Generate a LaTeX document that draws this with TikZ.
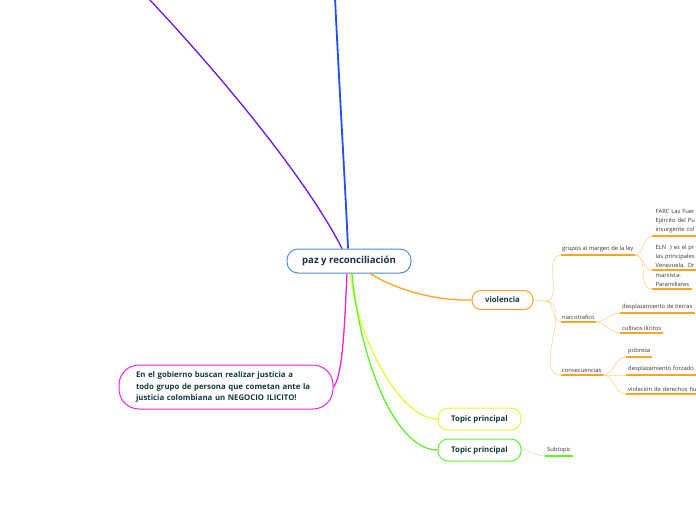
\documentclass[tikz,border=0pt]{standalone}
\usepackage{fontspec}
\setmainfont{Open Sans}
\usetikzlibrary{positioning}
\definecolor{centreblue}{HTML}{4A8FD4}
\definecolor{navytext}{HTML}{1C2D50}
\definecolor{tealtext}{HTML}{17393A}
\definecolor{leafgray}{HTML}{333333}
\definecolor{linkblue}{HTML}{1F4FFF}
\definecolor{linkpurple}{HTML}{6A14F0}
\definecolor{violorange}{HTML}{FFA322}
\definecolor{paleorange}{HTML}{FFD28C}
\definecolor{linkpink}{HTML}{EE22E0}
\definecolor{linkyellow}{HTML}{E2FA3A}
\definecolor{linkgreen}{HTML}{5EF52A}
\definecolor{palegreen}{HTML}{B6F7A0}
\tikzstyle{central} = [rectangle, rounded corners=11pt, minimum width=124pt, minimum height=24pt, text centered, draw=centreblue, line width=1pt, fill=white, text=navytext, font=\fontsize{9.6}{11}\selectfont\bfseries]
\tikzstyle{topic} = [rectangle, rounded corners=10pt, minimum width=83pt, minimum height=22pt, text centered, line width=1pt, fill=white, text=tealtext, font=\fontsize{7.8}{9}\selectfont\bfseries]
\tikzstyle{leaf} = [anchor=south west, inner xsep=1pt, inner ysep=2.5pt, align=left, text=leafgray, font=\fontsize{5.8}{9}\selectfont]
\tikzstyle{twig} = [line width=0.6pt, paleorange]
\tikzstyle{uline} = [line width=1.2pt, violorange]

\begin{document}
\begin{tikzpicture}[x=1pt, y=-1pt]
\useasboundingbox (0,0) rectangle (696,520);
\clip (0,0) rectangle (696,520);

% Central topic
\node (main) [central] at (349,261) {paz y reconciliación};

% Main topics
\node (viol) [topic, draw=violorange, minimum width=61pt, minimum height=19pt, rounded corners=9pt] at (502.5,300) {violencia};
\node (topic1) [topic, draw=linkyellow] at (479.5,419) {Topic principal};
\node (topic2) [topic, draw=linkgreen] at (479.5,450) {Topic principal};
\node (gob) [topic, draw=linkpink, minimum width=214pt, minimum height=44pt, rounded corners=20pt, text width=180pt, align=left, font=\fontsize{7.8}{11.5}\selectfont\bfseries] at (226,387) {En el gobierno buscan realizar justicia a\\todo grupo de persona que cometan ante la\\justicia colombiana un NEGOCIO ILICITO!};

% Branches leaving the picture
\coordinate (topblue) at (335,-2);
\coordinate (topleft) at (148,-2);
\draw[linkblue, line width=1.8pt] (topblue) .. controls (340,100) and (346,200) .. ([xshift=-1pt]main.north);
\draw[linkpurple, line width=1.3pt] (topleft) .. controls (230,85) and (310,185) .. ([xshift=-7pt]main.north);

% Branches to main topics
\draw[linkpink, line width=1.3pt] ([xshift=-2pt]main.south) .. controls (344,340) and (342,375) .. (gob.east);
\draw[linkyellow, line width=1.3pt] ([xshift=1pt]main.south) .. controls (358,340) and (400,419) .. (topic1.west);
\draw[linkgreen, line width=1.3pt] ([xshift=3pt]main.south) .. controls (360,360) and (395,450) .. (topic2.west);
\draw[violorange, line width=1.3pt] ([xshift=21pt]main.south) .. controls (400,292) and (440,301) .. (viol.west);

% Subtopics of violencia
\node (grupos) [leaf] at (561,255) {grupos al margen de la ley};
\node (narco) [leaf] at (561,322) {narcotrafico};
\node (conse) [leaf] at (561,375) {consecuencias};

\node (farc) [leaf, inner xsep=3.5pt, text width=45pt] at (652,236) {FARC Las Fuer\\Ejército del Pu\\insurgente col};
\node (eln) [leaf, inner xsep=3.5pt, text width=45pt] at (652,270) {ELN\ \ ) es el pr\\las principales\\Venezuela. Or};
\node (para) [leaf, inner xsep=3.5pt, text width=33pt] at (652,289) {marxista-\\Paramiliares};

\node (tierras) [leaf, inner xsep=2pt] at (620,313) {desplazamiento de tierras};
\node (cultivos) [leaf, inner xsep=2pt] at (620,333) {cultivos ilícitos};

\node (pobreza) [leaf, inner xsep=2pt] at (626,357) {pobreza};
\node (forzado) [leaf, inner xsep=2pt, text width=80pt] at (626,375) {desplazamiento forzado};
\node (derechos) [leaf, inner xsep=2pt, text width=80pt] at (626,394) {violación de derechos hu};

\coordinate (vjoin) at (545,301);
\draw[twig] (viol.east) -- (vjoin);
\draw[twig] (vjoin) to[out=0, in=180] (grupos.south west);
\draw[twig] (vjoin) to[out=0, in=180] (narco.south west);
\draw[twig] (vjoin) to[out=0, in=180] (conse.south west);

\draw[twig] (grupos.south east) to[out=0, in=180] (farc.south west);
\draw[twig] (grupos.south east) to[out=0, in=180] (eln.south west);
\draw[twig] (grupos.south east) to[out=0, in=180] (para.south west);
\draw[twig] (narco.south east) to[out=0, in=180] (tierras.south west);
\draw[twig] (narco.south east) to[out=0, in=180] (cultivos.south west);
\draw[twig] (conse.south east) to[out=0, in=180] (pobreza.south west);
\draw[twig] (conse.south east) to[out=0, in=180] (forzado.south west);
\draw[twig] (conse.south east) to[out=0, in=180] (derechos.south west);

\foreach \leafname in {grupos, narco, conse, farc, eln, para, tierras, cultivos, pobreza, forzado, derechos}
  \draw[uline] (\leafname.south west) -- (\leafname.south east);

% Subtopic of the second topic
\node (sub) [leaf, inner xsep=2pt] at (545,456) {Subtopic};
\draw[line width=0.6pt, palegreen] (topic2.east) to[out=0, in=180] (sub.south west);
\draw[line width=1.2pt, linkgreen] (sub.south west) -- (sub.south east);

\end{tikzpicture}
\end{document}
